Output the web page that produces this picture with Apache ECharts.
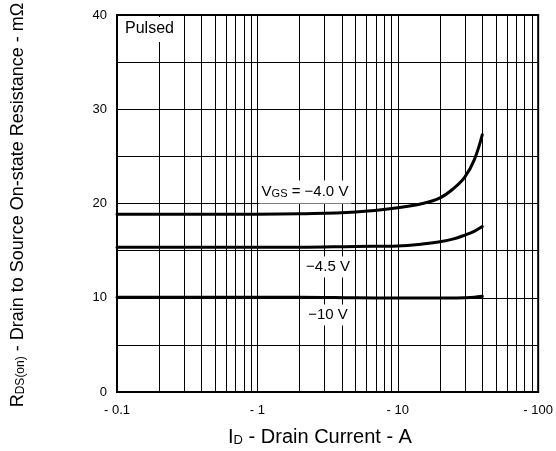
<!DOCTYPE html>
<html>
<head>
<meta charset="utf-8">
<script src="https://cdn.jsdelivr.net/npm/echarts@6/dist/echarts.min.js"></script>
<style>
html, body { margin: 0; padding: 0; background: #fff; }
#main { width: 556px; height: 451px; }
</style>
</head>
<body>
<div id="main"></div>
<script>
// drain current (A, magnitude) and on-resistance (mOhm)
var currentA = [0.1, 0.5, 1, 2, 5, 10, 15, 20, 25, 30, 35, 40];
var rdsVgs40 = [18.85, 18.85, 18.85, 18.9, 19.1, 19.55, 20.0, 20.6, 21.6, 22.8, 24.6, 27.3];
var rdsVgs45 = [15.35, 15.35, 15.35, 15.35, 15.45, 15.5, 15.7, 15.95, 16.25, 16.65, 17.05, 17.55];
var rdsVgs10 = [10.05, 10.05, 10.05, 10.05, 10.0, 9.97, 9.97, 9.97, 9.98, 10.0, 10.05, 10.15];
// vertical grid lines of the log paper
var gridLinesA = [0.2, 0.3, 0.4, 0.5, 0.6, 0.7, 0.8, 0.9, 1,
	2, 3, 4, 5, 6, 7, 8, 9, 10,
	20, 30, 40, 50, 60, 70, 80, 90];

function pairs(xs, ys) {
	var out = [];
	for (var i = 0; i < xs.length; i++) {
		out.push([xs[i], ys[i]]);
	}
	return out;
}

var font = 'Liberation Sans, Arial, sans-serif';

function curve(name, ys) {
	return {
		name: name,
		type: 'line',
		data: pairs(currentA, ys),
		smooth: 0.4,
		showSymbol: false,
		silent: true,
		lineStyle: { color: '#000', width: 3, cap: 'round', join: 'round' },
		z: 5
	};
}

var vLines = [];
for (var i = 0; i < gridLinesA.length; i++) {
	vLines.push({ xAxis: gridLinesA[i] });
}

// empty series that only carries the vertical grid lines
var gridSeries = {
	name: 'grid',
	type: 'line',
	data: [],
	silent: true,
	z: 1,
	markLine: {
		silent: true,
		symbol: 'none',
		label: { show: false },
		lineStyle: { color: '#000', width: 1, type: 'solid' },
		data: vLines
	}
};

var myChart = echarts.init(document.getElementById('main'));
myChart.setOption({
	animation: false,
	grid: {
		left: 117, right: 15, top: 15, bottom: 59,
		show: true, borderColor: '#000', borderWidth: 2
	},
	xAxis: {
		type: 'log',
		logBase: 10,
		min: 0.1,
		max: 100,
		axisLine: { lineStyle: { color: '#000', width: 2 } },
		axisTick: { show: false },
		splitLine: { show: false },
		axisLabel: {
			color: '#000', fontSize: 13, fontFamily: font, margin: 12,
			formatter: function (v) { return '- ' + Number(v.toPrecision(2)); }
		}
	},
	yAxis: {
		type: 'value',
		min: 0,
		max: 40,
		interval: 10,
		axisLine: { show: true, lineStyle: { color: '#000', width: 2 } },
		axisTick: { show: false },
		axisLabel: { color: '#000', fontSize: 13, fontFamily: font, margin: 10 },
		splitLine: { show: true, lineStyle: { color: '#000', width: 1 } },
		minorTick: { show: false, splitNumber: 2 },
		minorSplitLine: { show: true, lineStyle: { color: '#000', width: 1 } }
	},
	series: [gridSeries, curve('-4.0', rdsVgs40), curve('-4.5', rdsVgs45), curve('-10', rdsVgs10)],
	graphic: [
		{
			type: 'text', x: 18, y: 205, rotation: Math.PI / 2, z: 10,
			style: {
				text: '{n|R}{s|DS(on)}{n| - Drain to Source On-state Resistance - mΩ}',
				align: 'center', verticalAlign: 'middle',
				rich: {
					n: { fontSize: 18, fontFamily: font, fill: '#000', verticalAlign: 'bottom' },
					s: { fontSize: 12, fontFamily: font, fill: '#000', verticalAlign: 'bottom' }
				}
			}
		},
		{
			type: 'text', x: 320, y: 437, z: 10,
			style: {
				text: '{n|I}{s|D}{n| - Drain Current - A}',
				align: 'center', verticalAlign: 'middle',
				rich: {
					n: { fontSize: 20, fontFamily: font, fill: '#000', verticalAlign: 'bottom' },
					s: { fontSize: 13, fontFamily: font, fill: '#000', verticalAlign: 'bottom' }
				}
			}
		},
		{
			type: 'text', x: 120, y: 17, z: 10,
			style: {
				text: 'Pulsed', fontSize: 16, fontFamily: font, fill: '#000',
				backgroundColor: '#fff', padding: [4, 5, 5, 5]
			}
		},
		{
			type: 'text', x: 305, y: 192, z: 10,
			style: {
				text: '{n|V}{s|GS}{n| = −4.0 V}',
				align: 'center', verticalAlign: 'middle',
				backgroundColor: '#fff', padding: [4, 3, 4, 3],
				rich: {
					n: { fontSize: 15, fontFamily: font, fill: '#000', verticalAlign: 'bottom' },
					s: { fontSize: 11, fontFamily: font, fill: '#000', verticalAlign: 'bottom' }
				}
			}
		},
		{
			type: 'text', x: 328, y: 267, z: 10,
			style: {
				text: '−4.5 V', fontSize: 15, fontFamily: font, fill: '#000',
				align: 'center', verticalAlign: 'middle',
				backgroundColor: '#fff', padding: [3, 2, 3, 2]
			}
		},
		{
			type: 'text', x: 328, y: 315, z: 10,
			style: {
				text: '−10 V', fontSize: 15, fontFamily: font, fill: '#000',
				align: 'center', verticalAlign: 'middle',
				backgroundColor: '#fff', padding: [3, 2, 3, 2]
			}
		}
	]
});
</script>
</body>
</html>
